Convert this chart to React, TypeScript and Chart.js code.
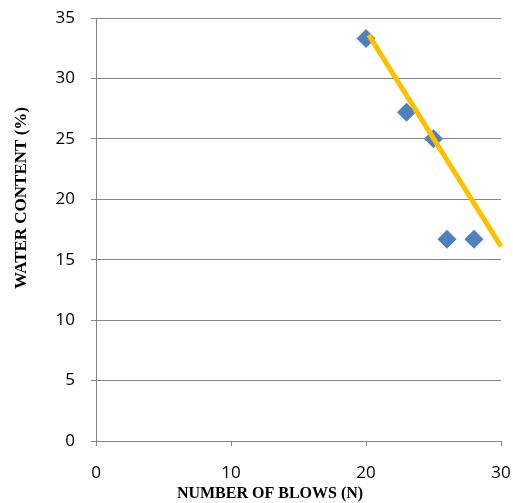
import React, { useEffect, useRef } from "react";
import { Chart, registerables } from "chart.js";

Chart.register(...registerables);

// Liquid limit test: number of blows vs. water content
const blows = [20, 23, 25, 26, 28];
const waterContent = [33.3, 27.2, 25.0, 16.7, 16.7];

// Flow line end points
const flowLineX = [20.2, 30];
const flowLineY = [33.6, 16.1];

const xTicks = [0, 10, 20, 30];
const yTicks = [0, 5, 10, 15, 20, 25, 30, 35];

const xTitle = "NUMBER OF BLOWS (N)";
const yTitle = "WATER CONTENT (%)";

const GRID = "#868686";

const axisTitles = {
  id: "axisTitles",
  afterDraw(chart: any) {
    const ctx = chart.ctx;
    ctx.save();
    ctx.fillStyle = "#000";
    ctx.textAlign = "center";
    ctx.textBaseline = "middle";
    ctx.font = "bold 16px 'Liberation Serif', 'Times New Roman', serif";
    ctx.fillText(xTitle, 270, 494);
    ctx.translate(22, 198);
    ctx.rotate(-Math.PI / 2);
    ctx.font = "bold 17px 'Liberation Serif', 'Times New Roman', serif";
    ctx.fillText(yTitle, 0, 0);
    ctx.restore();
  },
};

export default function App() {
  const canvasRef = useRef<HTMLCanvasElement | null>(null);

  useEffect(() => {
    const canvas = canvasRef.current;
    if (!canvas) return;
    const chart = new Chart(canvas, {
      type: "scatter",
      data: {
        datasets: [
          {
            type: "line",
            data: flowLineX.map((x, i) => ({ x, y: flowLineY[i] })),
            borderColor: "#FFC000",
            borderWidth: 5,
            borderCapStyle: "butt",
            pointRadius: 0,
            fill: false,
            clip: false,
            order: 0,
          } as any,
          {
            data: blows.map((x, i) => ({ x, y: waterContent[i] })),
            pointStyle: "rectRot",
            pointRadius: 9.5,
            pointHoverRadius: 9.5,
            backgroundColor: "#4F81BD",
            borderColor: "#4F81BD",
            borderWidth: 0,
            clip: false,
            order: 1,
          } as any,
        ],
      },
      options: {
        animation: false,
        responsive: false,
        devicePixelRatio: 1,
        layout: {
          autoPadding: false,
          padding: { top: 18, right: 12, left: 0, bottom: 0 },
        },
        plugins: {
          legend: { display: false },
          tooltip: { enabled: false },
        },
        scales: {
          x: {
            type: "linear",
            min: 0,
            max: 30,
            afterBuildTicks: (scale: any) => {
              scale.ticks = xTicks.map((v) => ({ value: v }));
            },
            afterFit: (scale: any) => {
              scale.height = 62;
              scale.paddingLeft = 0;
              scale.paddingRight = 0;
            },
            grid: {
              drawOnChartArea: false,
              drawTicks: true,
              tickLength: 5,
              color: GRID,
            },
            border: { color: GRID, width: 1 },
            ticks: {
              color: "#000",
              padding: 17,
              font: { family: "'Open Sans'", size: 17 },
            },
          },
          y: {
            type: "linear",
            min: 0,
            max: 35,
            afterBuildTicks: (scale: any) => {
              scale.ticks = yTicks.map((v) => ({ value: v }));
            },
            afterFit: (scale: any) => {
              scale.width = 96;
              scale.paddingTop = 0;
              scale.paddingBottom = 0;
            },
            grid: {
              color: GRID,
              tickLength: 5,
            },
            border: { color: GRID, width: 1 },
            ticks: {
              color: "#000",
              padding: 16,
              font: { family: "'Open Sans'", size: 17 },
            },
          },
        },
      },
      plugins: [axisTitles],
    });
    return () => chart.destroy();
  }, []);

  return (
    <div style={{ position: "fixed", left: 0, top: 0, width: 513, height: 503, background: "#fff" }}>
      <canvas ref={canvasRef} width={513} height={503} />
    </div>
  );
}
